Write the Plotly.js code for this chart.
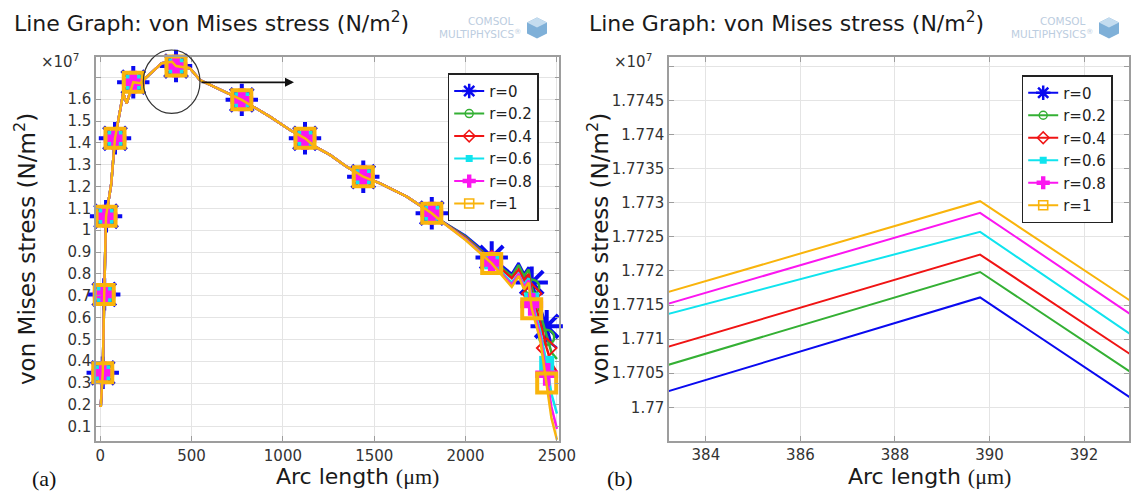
<!DOCTYPE html>
<html>
<head>
<meta charset="utf-8">
<script src="https://cdn.plot.ly/plotly-3.0.1.min.js"></script>
<style>
  html, body { margin: 0; padding: 0; background: #fff; }
  #chart { width: 1131px; height: 495px; }
</style>
</head>
<body>
<div id="chart"></div>
<script>
// von Mises stress along the arc length for six values of r (stress in units of 1e7 N/m^2)
const radiusLabels = ['r=0', 'r=0.2', 'r=0.4', 'r=0.6', 'r=0.8', 'r=1'];

const arcLength = [3, 14, 22, 32, 60, 81, 126, 145, 181, 218, 337, 383.2, 389.8, 393, 415, 491, 546,
  775, 929, 1039, 1121, 1176, 1258, 1349, 1440, 1532, 1678, 1815, 1860,
  2000, 2143, 2253, 2290, 2320, 2345, 2362, 2408, 2444, 2470, 2500];

const stressR0 = [0.19, 0.347, 0.706, 1.064, 1.21, 1.421, 1.627, 1.581, 1.678, 1.673, 1.765, 1.770235, 1.771612, 1.770132, 1.752, 1.742, 1.688,
  1.597, 1.52, 1.459, 1.421, 1.383, 1.345, 1.291, 1.245, 1.215, 1.154, 1.078, 1.046,
  0.975, 0.875, 0.80, 0.85, 0.80, 0.83, 0.76, 0.65, 0.56, 0.48, 0.46];
const stressR02 = [0.19, 0.347, 0.706, 1.064, 1.21, 1.421, 1.627, 1.581, 1.678, 1.673, 1.765, 1.770622, 1.771985, 1.770509, 1.752, 1.742, 1.688,
  1.597, 1.52, 1.459, 1.421, 1.383, 1.345, 1.291, 1.245, 1.215, 1.154, 1.078, 1.046,
  0.97, 0.865, 0.79, 0.84, 0.79, 0.82, 0.74, 0.62, 0.51, 0.44, 0.41];
const stressR04 = [0.19, 0.347, 0.706, 1.064, 1.21, 1.421, 1.627, 1.581, 1.678, 1.673, 1.765, 1.770887, 1.77224, 1.770769, 1.752, 1.742, 1.688,
  1.597, 1.52, 1.459, 1.421, 1.383, 1.345, 1.291, 1.245, 1.215, 1.154, 1.078, 1.046,
  0.965, 0.86, 0.78, 0.82, 0.77, 0.80, 0.71, 0.58, 0.46, 0.39, 0.35];
const stressR06 = [0.19, 0.347, 0.706, 1.064, 1.21, 1.421, 1.627, 1.581, 1.678, 1.673, 1.765, 1.771368, 1.772574, 1.771063, 1.752, 1.742, 1.688,
  1.597, 1.52, 1.459, 1.421, 1.383, 1.345, 1.291, 1.245, 1.215, 1.154, 1.078, 1.046,
  0.96, 0.855, 0.76, 0.80, 0.75, 0.78, 0.68, 0.54, 0.39, 0.25, 0.16];
const stressR08 = [0.19, 0.347, 0.706, 1.064, 1.21, 1.421, 1.627, 1.581, 1.678, 1.673, 1.765, 1.771519, 1.772853, 1.771357, 1.752, 1.742, 1.688,
  1.597, 1.52, 1.459, 1.421, 1.383, 1.345, 1.291, 1.245, 1.215, 1.154, 1.078, 1.046,
  0.958, 0.85, 0.75, 0.80, 0.74, 0.77, 0.66, 0.52, 0.34, 0.19, 0.09];
const stressR1 = [0.19, 0.347, 0.706, 1.064, 1.21, 1.421, 1.627, 1.581, 1.678, 1.673, 1.765, 1.771691, 1.773024, 1.771553, 1.752, 1.742, 1.688,
  1.597, 1.52, 1.459, 1.421, 1.383, 1.345, 1.291, 1.245, 1.215, 1.154, 1.078, 1.046,
  0.955, 0.848, 0.74, 0.79, 0.73, 0.76, 0.64, 0.50, 0.30, 0.14, 0.04];

// arc-length positions that carry a marker on every curve
const markerArc = [14, 22, 32, 81, 181, 415, 775, 1121, 1440, 1815, 2143, 2362, 2444];

// tick values and labels
const fullTickX = [0, 500, 1000, 1500, 2000, 2500];
const fullTickY = [0.1, 0.2, 0.3, 0.4, 0.5, 0.6, 0.7, 0.8, 0.9, 1, 1.1, 1.2, 1.3, 1.4, 1.5, 1.6, 1.7];
const fullTickYText = ['0.1', '0.2', '0.3', '0.4', '0.5', '0.6', '0.7', '0.8', '0.9', '1', '1.1', '1.2', '1.3', '1.4', '1.5', '1.6', ''];
const zoomTickX = [384, 386, 388, 390, 392];
const zoomTickY = [1.77, 1.7705, 1.771, 1.7715, 1.772, 1.7725, 1.773, 1.7735, 1.774, 1.7745, 1.775];
const zoomTickYText = ['1.77', '1.7705', '1.771', '1.7715', '1.772', '1.7725', '1.773', '1.7735', '1.774', '1.7745', ''];

const seriesValues = [stressR0, stressR02, stressR04, stressR06, stressR08, stressR1];

const styles = [
  { color: '#0a0af0', marker: { symbol: 'asterisk-open', size: 27, line: { width: 4 } }, legendMarker: { symbol: 'asterisk-open', size: 12, line: { width: 2.5 } } },
  { color: '#34b034', marker: { symbol: 'circle-open', size: 15, line: { width: 2.5 } }, legendMarker: { symbol: 'circle-open', size: 8, line: { width: 1.5 } } },
  { color: '#f01414', marker: { symbol: 'diamond-open', size: 15, line: { width: 2 } }, legendMarker: { symbol: 'diamond-open', size: 9, line: { width: 1.5 } } },
  { color: '#10e4ee', marker: { symbol: 'square', size: 15, line: { width: 0 } }, legendMarker: { symbol: 'square', size: 7, line: { width: 0 } } },
  { color: '#fb16f0', marker: { symbol: 'cross', size: 19, line: { width: 0 } }, legendMarker: { symbol: 'cross', size: 11, line: { width: 0 } } },
  { color: '#f9b40c', marker: { symbol: 'square-open', size: 19, line: { width: 4 } }, legendMarker: { symbol: 'square-open', size: 9, line: { width: 1.6 } } }
];

const traces = [];
seriesValues.forEach((vals, i) => {
  const st = styles[i];
  // full-length curve
  traces.push({
    x: arcLength, y: vals, xaxis: 'x', yaxis: 'y', mode: 'lines',
    line: { color: st.color, width: 2.5 }, showlegend: false, hoverinfo: 'skip'
  });
  // markers on the curve
  const mx = [], my = [];
  arcLength.forEach((a, k) => { if (markerArc.includes(a)) { mx.push(a); my.push(vals[k]); } });
  traces.push({
    x: mx, y: my, xaxis: 'x', yaxis: 'y', mode: 'markers', cliponaxis: false,
    marker: Object.assign({ color: st.color }, st.marker, { line: Object.assign({ color: st.color }, st.marker.line) }),
    showlegend: false, hoverinfo: 'skip'
  });
});
// close-up around the peak
seriesValues.forEach((vals, i) => {
  traces.push({
    x: arcLength, y: vals, xaxis: 'x2', yaxis: 'y2', mode: 'lines',
    line: { color: styles[i].color, width: 2 }, showlegend: false, hoverinfo: 'skip'
  });
});
// legend entries for both panels
['legend', 'legend2'].forEach((lg, j) => {
  radiusLabels.forEach((name, i) => {
    const st = styles[i];
    traces.push({
      x: [null], y: [null], xaxis: j ? 'x2' : 'x', yaxis: j ? 'y2' : 'y',
      mode: 'lines+markers', name: name, legend: lg,
      line: { color: st.color, width: 2 },
      marker: Object.assign({ color: st.color }, st.legendMarker, { line: Object.assign({ color: st.color }, st.legendMarker.line) })
    });
  });
});

const axisBase = {
  showline: true, linecolor: '#9d9d9d', linewidth: 1.5, mirror: 'ticks',
  ticks: 'inside', ticklen: 5, tickwidth: 1, tickcolor: '#9d9d9d',
  showgrid: true, gridcolor: '#e4e4e4', gridwidth: 1, zeroline: false,
  tickfont: { family: 'DejaVu Sans', size: 15, color: '#333' }, tickmode: 'array'
};

const W = 1131, H = 495;
const px = v => v / W, py = v => 1 - v / H;
const sans = 'DejaVu Sans', serif = 'Liberation Serif';

function logo(xs) {
  return [
    { text: 'COMSOL', x: px(xs + 1063), y: py(20.5), font: { family: sans, size: 10.5, color: '#bccde0' } },
    { text: 'MULTIPHYSICS<sup>®</sup>', x: px(xs + 1052), y: py(33.5), font: { family: sans, size: 10.5, color: '#bccde0' } }
  ];
}

const annotations = [
  { text: 'Line Graph: von Mises stress (N/m<sup>2</sup>)', x: px(12), xanchor: 'left', y: py(22), font: { family: sans, size: 22, color: '#1a1a1a' } },
  { text: 'Line Graph: von Mises stress (N/m<sup>2</sup>)', x: px(587), xanchor: 'left', y: py(22), font: { family: sans, size: 22, color: '#1a1a1a' } },
  { text: '×10<sup>7</sup>', x: px(81), xanchor: 'right', y: py(61), font: { family: sans, size: 15, color: '#333' } },
  { text: '×10<sup>7</sup>', x: px(654), xanchor: 'right', y: py(61), font: { family: sans, size: 15, color: '#333' } },
  { text: 'von Mises stress (N/m<sup>2</sup>)', textangle: -90, x: px(25), y: py(249), font: { family: sans, size: 23, color: '#1a1a1a' } },
  { text: 'von Mises stress (N/m<sup>2</sup>)', textangle: -90, x: px(598), y: py(249), font: { family: sans, size: 23, color: '#1a1a1a' } },
  { text: 'Arc length <span style="font-family:Liberation Serif">(μm)</span>', x: px(357), y: py(476), font: { family: sans, size: 22, color: '#1a1a1a' } },
  { text: 'Arc length <span style="font-family:Liberation Serif">(μm)</span>', x: px(929), y: py(476), font: { family: sans, size: 22, color: '#1a1a1a' } },
  { text: '(a)', x: px(44), y: py(478), font: { family: serif, size: 22, color: '#111' } },
  { text: '(b)', x: px(620), y: py(478), font: { family: serif, size: 22, color: '#111' } },
  { text: '', showarrow: true, x: px(294), y: py(82.3), ax: -94, ay: 0, arrowhead: 2, arrowsize: 1, arrowwidth: 1.8, arrowcolor: '#111' }
].concat(logo(-572), logo(0)).map(a => Object.assign({ xref: 'paper', yref: 'paper', showarrow: false, xanchor: 'center', yanchor: 'middle' }, a));

function cube(xs) {
  const cx = xs + 1109, cy = 27.5;
  const pts = [[cx, cy - 10], [cx + 10, cy - 5], [cx + 10, cy + 6], [cx, cy + 11], [cx - 10, cy + 6], [cx - 10, cy - 5]];
  const path = 'M' + pts.map(p => px(p[0]) + ',' + py(p[1])).join(' L') + ' Z';
  const top = 'M' + [[cx, cy - 10], [cx + 10, cy - 5], [cx, cy], [cx - 10, cy - 5]].map(p => px(p[0]) + ',' + py(p[1])).join(' L') + ' Z';
  return [
    { type: 'path', xref: 'paper', yref: 'paper', path: path, fillcolor: '#7fb0d8', line: { width: 0 } },
    { type: 'path', xref: 'paper', yref: 'paper', path: top, fillcolor: '#c4dcef', line: { width: 0 } }
  ];
}

const shapes = [
  { type: 'circle', xref: 'paper', yref: 'paper', x0: px(143.3), x1: px(200), y0: py(113.3), y1: py(50), line: { color: '#333', width: 1.2 } }
].concat(cube(-572), cube(0));

const legendBase = {
  bgcolor: '#fff', bordercolor: '#222', borderwidth: 1.5,
  font: { family: sans, size: 15, color: '#222' }, xanchor: 'left', yanchor: 'top',
  itemwidth: 30
};

const layout = {
  width: W, height: H, margin: { l: 0, r: 0, t: 0, b: 0 },
  paper_bgcolor: '#fff', plot_bgcolor: '#fff', showlegend: true,
  xaxis: Object.assign({}, axisBase, { domain: [px(96), px(559.3)], range: [-23, 2513], tickvals: fullTickX, ticktext: fullTickX.map(String) }),
  yaxis: Object.assign({}, axisBase, { domain: [py(441), py(57.3)], range: [0.0345, 1.792], tickvals: fullTickY, ticktext: fullTickYText }),
  xaxis2: Object.assign({}, axisBase, { anchor: 'y2', domain: [px(669), px(1129)], range: [383.22, 392.95], tickvals: zoomTickX, ticktext: zoomTickX.map(String) }),
  yaxis2: Object.assign({}, axisBase, { anchor: 'x2', domain: [py(440.7), py(57.3)], range: [1.76951, 1.775135], tickvals: zoomTickY, ticktext: zoomTickYText }),
  legend: Object.assign({}, legendBase, { x: px(447.7), y: py(73.3) }),
  legend2: Object.assign({}, legendBase, { x: px(1021.7), y: py(75) }),
  annotations: annotations,
  shapes: shapes
};

Plotly.newPlot('chart', traces, layout, { displayModeBar: false, responsive: false });
</script>
</body>
</html>
